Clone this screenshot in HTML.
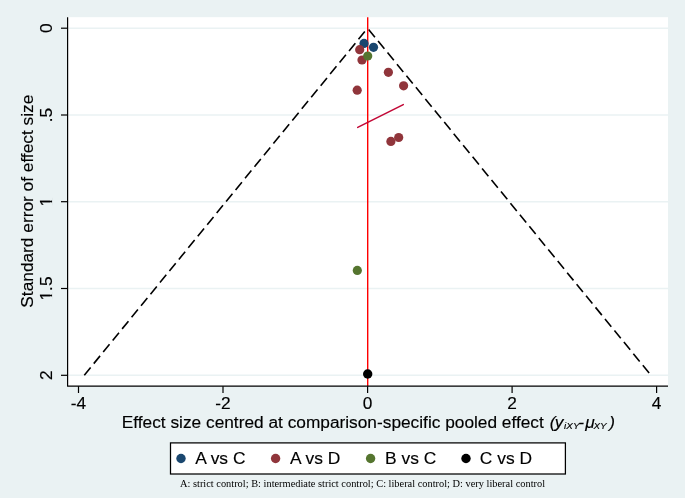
<!DOCTYPE html>
<html>
<head>
<meta charset="utf-8">
<title>Funnel plot</title>
<style>
html,body{margin:0;padding:0;background:#eaf2f3;}
body{width:685px;height:498px;overflow:hidden;}
svg{display:block;}
text{font-family:"Liberation Sans",Arial,sans-serif;font-size:17.3px;fill:#000;stroke:#000;stroke-width:0.15px;}
.cap{font-family:"Liberation Serif","Times New Roman",serif;font-size:10.39px;stroke:none;}
</style>
</head>
<body>
<svg width="685" height="498" viewBox="0 0 685 498">
<rect x="0" y="0" width="685" height="498" fill="#eaf2f3"/>
<!-- plot region -->
<rect x="67.4" y="17.2" width="600.6" height="368.9" fill="#ffffff"/>
<!-- gridlines -->
<g stroke="#eaf2f3" stroke-width="1.4">
<line x1="67.4" x2="668" y1="28.2" y2="28.2"/>
<line x1="67.4" x2="668" y1="115" y2="115"/>
<line x1="67.4" x2="668" y1="201.7" y2="201.7"/>
<line x1="67.4" x2="668" y1="288.5" y2="288.5"/>
<line x1="67.4" x2="668" y1="375.3" y2="375.3"/>
</g>
<!-- funnel -->
<g stroke="#000" stroke-width="1.6" fill="none" stroke-dasharray="10 4.95">
<line x1="84.3" y1="375.2" x2="367.6" y2="28.2"/>
<line x1="367.6" y1="28.2" x2="650.9" y2="375.2" stroke-dashoffset="13.35"/>
</g>
<!-- vertical line -->
<line x1="367.7" x2="367.7" y1="17.2" y2="386" stroke="#ff0000" stroke-width="1.4"/>
<!-- regression -->
<line x1="357.7" y1="127.45" x2="403.3" y2="104.55" stroke="#c10534" stroke-width="1.5" stroke-linecap="round"/>
<!-- points -->
<g fill="#1a476f">
<circle cx="364.0" cy="43.4" r="4.6"/>
<circle cx="373.5" cy="47.3" r="4.6"/>
</g>
<g fill="#90353b">
<circle cx="359.7" cy="49.7" r="4.6"/>
<circle cx="362.0" cy="60.0" r="4.6"/>
<circle cx="388.4" cy="72.3" r="4.6"/>
<circle cx="403.6" cy="85.8" r="4.6"/>
<circle cx="357.2" cy="90.2" r="4.6"/>
<circle cx="398.7" cy="137.5" r="4.6"/>
<circle cx="390.9" cy="141.4" r="4.6"/>
</g>
<g fill="#55752f">
<circle cx="367.7" cy="56.0" r="4.6"/>
<circle cx="357.3" cy="270.4" r="4.6"/>
</g>
<circle cx="367.7" cy="374.0" r="4.7" fill="#000"/>
<!-- axes -->
<g stroke="#000" stroke-width="1.2" fill="none">
<path d="M67.6 17.2V386.2H668" stroke-linejoin="round"/>
<line x1="61" x2="67.4" y1="28.2" y2="28.2"/>
<line x1="61" x2="67.4" y1="115" y2="115"/>
<line x1="61" x2="67.4" y1="201.7" y2="201.7"/>
<line x1="61" x2="67.4" y1="288.5" y2="288.5"/>
<line x1="61" x2="67.4" y1="375.3" y2="375.3"/>
<line x1="78.5" x2="78.5" y1="386.2" y2="393"/>
<line x1="223" x2="223" y1="386.2" y2="393"/>
<line x1="367.6" x2="367.6" y1="386.2" y2="393"/>
<line x1="512.1" x2="512.1" y1="386.2" y2="393"/>
<line x1="656.6" x2="656.6" y1="386.2" y2="393"/>
</g>
<!-- x tick labels -->
<g text-anchor="middle">
<text x="78.5" y="408.7">-4</text>
<text x="223" y="408.7">-2</text>
<text x="367.6" y="408.7">0</text>
<text x="512.1" y="408.7">2</text>
<text x="656.6" y="408.7">4</text>
</g>
<!-- y tick labels -->
<g text-anchor="middle">
<text transform="translate(52.2 28.2) rotate(-90)">0</text>
<text transform="translate(52.2 115) rotate(-90)">.5</text>
<text transform="translate(52.2 201.7) rotate(-90)">1</text>
<text transform="translate(52.2 288.5) rotate(-90)">1.5</text>
<text transform="translate(52.2 375.3) rotate(-90)">2</text>
</g>
<g fill="#eaf2f3">
<rect x="50" y="196" width="2.6" height="4.6"/>
<rect x="50" y="202.4" width="2.6" height="4.6"/>
<rect x="50" y="290" width="2.6" height="4.6"/>
<rect x="50" y="296.4" width="2.6" height="4.6"/>
</g>
<!-- y title -->
<text text-anchor="middle" transform="translate(33.4 201.2) rotate(-90)">Standard error of effect size</text>
<!-- x title -->
<text x="121.8" y="427.6" style="white-space:pre">Effect size centred at comparison-specific pooled effect</text>
<g font-style="italic">
<text x="549.7" y="427.8">(</text>
<text x="554.7" y="427.8">y</text>
<text transform="translate(564.1 429.4) scale(1.1 1)" style="font-size:9px">iXY</text>
<text x="578.3" y="427.8">-</text>
<text x="585.3" y="427.8">μ</text>
<text transform="translate(593.5 429.4) scale(1.1 1)" style="font-size:9px">XY</text>
<text x="609.2" y="427.8">)</text>
</g>
<!-- legend -->
<rect x="170.5" y="442.9" width="394.9" height="31.1" fill="#ffffff" stroke="#000" stroke-width="1.25"/>
<g style="font-size:17.4px">
<circle cx="181.0" cy="458.5" r="4.7" fill="#1a476f"/>
<text x="195.2" y="464.2" style="font-size:17.4px">A vs C</text>
<circle cx="275.6" cy="458.5" r="4.7" fill="#90353b"/>
<text x="290" y="464.2" style="font-size:17.4px">A vs D</text>
<circle cx="370.6" cy="458.5" r="4.7" fill="#55752f"/>
<text x="385" y="464.2" style="font-size:17.4px">B vs C</text>
<circle cx="466" cy="458.5" r="4.7" fill="#000"/>
<text x="479.8" y="464.2" style="font-size:17.4px">C vs D</text>
</g>
<!-- caption -->
<text class="cap" x="180" y="486.8">A: strict control; B: intermediate strict control; C: liberal control; D: very liberal control</text>
</svg>
</body>
</html>
